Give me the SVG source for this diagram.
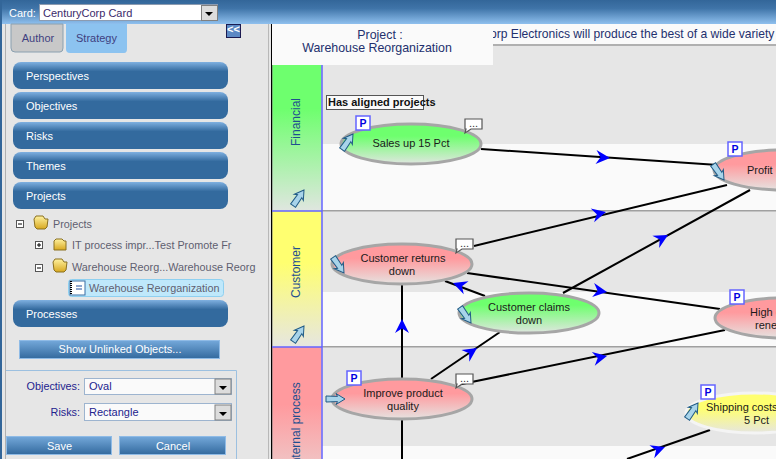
<svg xmlns="http://www.w3.org/2000/svg" width="776" height="459" viewBox="0 0 776 459">
<defs>
<linearGradient id="hdr" x1="0" y1="0" x2="0" y2="1"><stop offset="0" stop-color="#336699"/><stop offset="0.35" stop-color="#3f74a8"/><stop offset="1" stop-color="#8fc0ee"/></linearGradient>
<linearGradient id="btn" x1="0" y1="0" x2="0" y2="1"><stop offset="0" stop-color="#7fb0e0"/><stop offset="0.35" stop-color="#336a9e"/><stop offset="1" stop-color="#336a9e"/></linearGradient>
<linearGradient id="sbtn" x1="0" y1="0" x2="0" y2="1"><stop offset="0" stop-color="#74a8da"/><stop offset="1" stop-color="#336a9e"/></linearGradient>
<linearGradient id="grn" x1="0" y1="0" x2="0" y2="1"><stop offset="0" stop-color="#6eff6e"/><stop offset="0.3" stop-color="#6eff6e"/><stop offset="1" stop-color="#e0e6e0"/></linearGradient>
<linearGradient id="red" x1="0" y1="0" x2="0" y2="1"><stop offset="0" stop-color="#ff9a9e"/><stop offset="0.36" stop-color="#ff9a9e"/><stop offset="1" stop-color="#e6e2e0"/></linearGradient>
<linearGradient id="yel" x1="0" y1="0" x2="0" y2="1"><stop offset="0" stop-color="#ffff70"/><stop offset="0.38" stop-color="#ffff70"/><stop offset="1" stop-color="#e6e6e0"/></linearGradient>
<linearGradient id="fold" x1="0" y1="0" x2="0" y2="1"><stop offset="0" stop-color="#fff2a0"/><stop offset="1" stop-color="#d8a820"/></linearGradient>
<g id="bigarrow"><path d="M0 0 L-9 -5.500 L-7.500 -2.600 L-19 -3 L-19 3 L-7.500 2.600 L-9 5.500 Z" fill="#a8d4ea" stroke="#1f5a85" stroke-width="1"/></g>
<g id="tri"><path d="M0 0 L-14 -7 L-9.500 0 L-14 7 Z" fill="#0000ff"/></g>
</defs>
<style>
text{font-family:"Liberation Sans",Arial,sans-serif;font-size:11px}
.nav{fill:#fff;font-size:11px}
.tree{fill:#5f5f70;font-size:10.800px}
.lab{fill:#23238e;font-size:10.800px}
.node{fill:#1a1a1a;font-size:11px;text-anchor:middle}
.nodel{fill:#1a1a1a;font-size:11px}
.lane{fill:#1f4f8f;font-size:12px;text-anchor:middle}
.ttl{fill:#23306e;font-size:12.400px}
.edge{stroke:#000;stroke-width:2;fill:none}
.oval{stroke:#a6a6a6;stroke-width:3}
.pbox{fill:#fff;stroke:#6464ff;stroke-width:1.500}
.ptx{fill:#0000e0;font-size:10.500px;font-weight:bold;text-anchor:middle}
.bubble{fill:#fff;stroke:#555;stroke-width:1.200}
.navr{fill:url(#btn)}
.sb{fill:url(#sbtn);stroke:#8fbbe6;stroke-width:1}
.wb{fill:#fafafa;stroke:#9db4cf;stroke-width:1}
.cb{fill:#dcdcdc;stroke:#808080;stroke-width:1}
.fd{fill:url(#fold);stroke:#8a7020}
</style>
<rect width="776" height="459" fill="#e6e6e6"/>
<rect x="0" y="0" width="776" height="24" fill="url(#hdr)"/>
<rect x="0" y="0" width="2" height="459" fill="#336699"/>
<rect x="5" y="24" width="1" height="435" fill="#b0b0b0"/>
<rect x="268" y="24" width="1" height="435" fill="#b8b8b8"/>

<g id="toolbar">
<text x="9" y="17" fill="#fff" font-size="10.5">Card:</text>
<rect x="39.500" y="4.500" width="178" height="16" fill="#fff" stroke="#8c9bb0"/>
<text x="43" y="17" fill="#3a2a6a" font-size="10.500">CenturyCorp Card</text>
<rect x="201.500" y="5.500" width="16" height="15" class="cb"/>
<path d="M205 12h8l-4 4z" fill="#000"/>
</g>

<g id="tabs">
<path d="M11 24V48q0 4 4 4H60q3 0 3-4V24z" fill="#c8c8c8" stroke="#8aa0b0"/>
<text x="38" y="42" text-anchor="middle" fill="#3f3f80" font-size="10.500">Author</text>
<path d="M66 24V49q0 4 4 4H124q3 0 3-4V24z" fill="#8cc3f0"/>
<text x="96.500" y="42" text-anchor="middle" fill="#3f3f80" font-size="10.500">Strategy</text>
<rect x="226.500" y="24.500" width="14" height="13" fill="#5c88c4" stroke="#1a1a50"/>
<text x="233.500" y="33" text-anchor="middle" fill="#fff" font-size="9" font-weight="bold">&lt;&lt;</text>
</g>

<g id="nav">
<rect x="13" y="62" width="215" height="27" rx="8" class="navr"/><text x="26" y="80" class="nav">Perspectives</text>
<rect x="13" y="92" width="215" height="27" rx="8" class="navr"/><text x="26" y="110" class="nav">Objectives</text>
<rect x="13" y="122" width="215" height="27" rx="8" class="navr"/><text x="26" y="140" class="nav">Risks</text>
<rect x="13" y="152" width="215" height="27" rx="8" class="navr"/><text x="26" y="170" class="nav">Themes</text>
<rect x="13" y="182" width="215" height="27" rx="8" class="navr"/><text x="26" y="200" class="nav">Projects</text>
<rect x="13" y="300" width="215" height="27" rx="8" class="navr"/><text x="26" y="318" class="nav">Processes</text>
</g>

<g id="tree">
<rect x="16.500" y="220.500" width="7" height="7" fill="#fff" stroke="#555"/><path d="M18 224h4" stroke="#000"/>
<path d="M34 219l2-3h7l2 3h3l-1 8-2 2H37l-2-2z" class="fd"/><text x="53" y="228" class="tree">Projects</text>
<rect x="35.500" y="241.500" width="7" height="7" fill="#fff" stroke="#555"/><path d="M37 245h4M39 243v4" stroke="#000"/>
<path d="M54 241l2-2h6l2 2h2v9H54z" class="fd"/><text x="72" y="249" class="tree">IT process impr...Test Promote Fr</text>
<rect x="35.500" y="264.500" width="7" height="7" fill="#fff" stroke="#555"/><path d="M37 268h4" stroke="#000"/>
<path d="M53 262l2-3h7l2 3h3l-1 8-2 2H56l-2-2z" class="fd"/><text x="72" y="271" class="tree">Warehouse Reorg...Warehouse Reorg</text>
<rect x="68.500" y="279.500" width="155" height="17" rx="3" fill="#bfe8fb" stroke="#8fd0f0"/>
<rect x="70" y="281" width="15" height="14" fill="#fff" stroke="#3a6ea5"/><path d="M71 281v14" stroke="#000" stroke-width="2" stroke-dasharray="1 1"/><path d="M76 286h6M76 289h6" stroke="#2050a0"/>
<text x="89" y="292" class="tree">Warehouse Reorganization</text>
</g>

<g id="show-unlinked">
<rect x="19.500" y="340.500" width="200" height="18" class="sb"/><text x="120" y="353" text-anchor="middle" fill="#fff" font-size="10.500">Show Unlinked Objects...</text>
</g>

<g id="options">
<path d="M6 370.500H236.500V459" fill="none" stroke="#9cc0e0"/>
<text x="80" y="390" text-anchor="end" class="lab">Objectives:</text>
<rect x="84.500" y="378.500" width="147" height="16" class="wb"/><text x="89" y="390" fill="#23238e" font-size="10.500">Oval</text>
<rect x="215" y="379" width="16" height="15" class="cb"/><path d="M219 386h8l-4 4z" fill="#000"/>
<text x="80" y="416" text-anchor="end" class="lab">Risks:</text>
<rect x="84.500" y="403.500" width="147" height="17" class="wb"/><text x="89" y="416" fill="#23238e" font-size="10.500">Rectangle</text>
<rect x="215" y="405" width="16" height="15" class="cb"/><path d="M219 412h8l-4 4z" fill="#000"/>
<rect x="6.500" y="436.500" width="105" height="18" class="sb"/><text x="59.500" y="450" text-anchor="middle" fill="#fff" font-size="10.500">Save</text>
<rect x="119.500" y="436.500" width="106" height="18" class="sb"/><text x="173" y="450" text-anchor="middle" fill="#fff" font-size="10.500">Cancel</text>
</g>

<g id="canvas">
<rect x="271" y="24" width="1.500" height="435" fill="#000"/>
<rect x="272" y="24" width="504" height="20" fill="#fafafa"/>
<rect x="272" y="44" width="504" height="2" fill="#b0b0b0"/>
<text x="490" y="38" class="ttl" style="font-size:12.100px">orp Electronics will produce the best of a wide variety</text>
<rect x="322" y="144" width="454" height="67" fill="#fafafa"/>
<rect x="322" y="292" width="454" height="55" fill="#fafafa"/>
<rect x="322" y="446" width="454" height="13" fill="#fafafa"/>
<rect x="322" y="210" width="454" height="1.500" fill="#a0a0a0"/>
<rect x="322" y="346" width="454" height="1.500" fill="#a0a0a0"/>
<rect x="272" y="24" width="221" height="41" fill="#fafafa"/>
<text x="380" y="39" text-anchor="middle" class="ttl">Project :</text>
<text x="377" y="52" text-anchor="middle" class="ttl">Warehouse Reorganization</text>
</g>

<g id="lane-financial">
<rect x="272.500" y="65" width="49" height="146" fill="url(#grn)"/>
<text transform="translate(300,122) rotate(-90)" class="lane">Financial</text>
<use href="#bigarrow" transform="translate(304,190) rotate(-55)"/>
</g>
<g id="lane-customer">
<rect x="272.500" y="211" width="49" height="136" fill="url(#yel)"/>
<text transform="translate(300,272) rotate(-90)" class="lane">Customer</text>
<use href="#bigarrow" transform="translate(304,326) rotate(-55)"/>
</g>
<g id="lane-internal">
<rect x="272.500" y="347" width="49" height="160" fill="url(#red)"/>
<text transform="translate(300,425) rotate(-90)" class="lane">Internal process</text>
</g>
<path d="M322 65V459M272 211H322M272 347H322" stroke="#6464ff" stroke-width="1.500" fill="none"/>

<g id="connectors">
<path class="edge" d="M481 149L718 165"/>
<path class="edge" d="M474 246L727 185"/>
<path class="edge" d="M563 293L750 190"/>
<path class="edge" d="M485 296L445 281"/>
<path class="edge" d="M467 273L720 309"/>
<path class="edge" d="M431 379L500 332"/>
<path class="edge" d="M457 385L725 330"/>
<path class="edge" d="M402 378V285"/>
<path class="edge" d="M402 420V459"/>
<path class="edge" d="M710 430L627 459"/>
<use href="#tri" transform="translate(610,158) rotate(4)"/>
<use href="#tri" transform="translate(606,212) rotate(-14)"/>
<use href="#tri" transform="translate(668,235) rotate(-29)"/>
<use href="#tri" transform="translate(453,283) rotate(200)"/>
<use href="#tri" transform="translate(607,292) rotate(8)"/>
<use href="#tri" transform="translate(477,348) rotate(-34)"/>
<use href="#tri" transform="translate(607,356) rotate(-12)"/>
<use href="#tri" transform="translate(402,319) rotate(-90)"/>
<use href="#tri" transform="translate(665,447) rotate(-20)"/>
</g>

<g id="node-sales">
<ellipse cx="411" cy="144" rx="70" ry="20" class="oval" fill="url(#grn)"/>
<text x="411" y="147" class="node">Sales up 15 Pct</text>
<rect x="356" y="116" width="14" height="14" class="pbox"/><text x="363" y="127" class="ptx">P</text>
<use href="#bigarrow" transform="translate(353,134) rotate(-55)"/>
<path d="M465 119h17v10h-11l-6 4 1-4h-1z" class="bubble"/><text x="473.500" y="127" text-anchor="middle" font-size="9" fill="#333">...</text>
<rect x="326.500" y="95.500" width="97" height="14" fill="#fafafa" stroke="#555"/>
<text x="328" y="106" fill="#111" font-size="8.700" font-weight="bold">Has aligned projects</text>
</g>
<g id="node-profit">
<ellipse cx="783" cy="170" rx="69" ry="20" class="oval" fill="url(#red)"/>
<text x="747" y="174" class="nodel">Profit up</text>
<rect x="728" y="142" width="14" height="14" class="pbox"/><text x="735" y="153" class="ptx">P</text>
<use href="#bigarrow" transform="translate(724,180) rotate(55)"/>
</g>
<g id="node-returns">
<ellipse cx="402" cy="264" rx="70" ry="20" class="oval" fill="url(#red)"/>
<text x="403" y="262" class="node">Customer returns</text><text x="402" y="275" class="node">down</text>
<use href="#bigarrow" transform="translate(344,273) rotate(55)"/>
<path d="M456 239h17v10h-11l-6 4 1-4h-1z" class="bubble"/><text x="464.500" y="247" text-anchor="middle" font-size="9" fill="#333">...</text>
</g>
<g id="node-claims">
<ellipse cx="529" cy="313" rx="70" ry="20" class="oval" fill="url(#grn)"/>
<text x="529" y="311" class="node">Customer claims</text><text x="529" y="324" class="node">down</text>
<use href="#bigarrow" transform="translate(471,323) rotate(55)"/>
</g>
<g id="node-high">
<ellipse cx="784" cy="318" rx="69" ry="20" class="oval" fill="url(#red)"/>
<text x="750" y="316" class="nodel">High c</text><text x="755" y="329" class="nodel">rene</text>
<rect x="730" y="290" width="14" height="14" class="pbox"/><text x="737" y="301" class="ptx">P</text>
</g>
<g id="node-quality">
<ellipse cx="402" cy="399" rx="70" ry="20" class="oval" fill="url(#red)"/>
<text x="403" y="397" class="node">Improve product</text><text x="403" y="410" class="node">quality</text>
<rect x="347" y="371" width="14" height="14" class="pbox"/><text x="354" y="382" class="ptx">P</text>
<use href="#bigarrow" transform="translate(345,399)"/>
<path d="M456 374h17v10h-11l-6 4 1-4h-1z" class="bubble"/><text x="464.500" y="382" text-anchor="middle" font-size="9" fill="#333">...</text>
</g>
<g id="node-shipping">
<ellipse cx="755" cy="413" rx="69" ry="20" fill="url(#yel)" stroke="#f4f4f4" stroke-width="3"/>
<text x="706" y="411" class="nodel">Shipping costs</text><text x="744" y="424" class="nodel">5 Pct</text>
<rect x="701" y="385" width="14" height="14" class="pbox"/><text x="708" y="396" class="ptx">P</text>
<use href="#bigarrow" transform="translate(698,403) rotate(-55)"/>
</g>
</svg>
